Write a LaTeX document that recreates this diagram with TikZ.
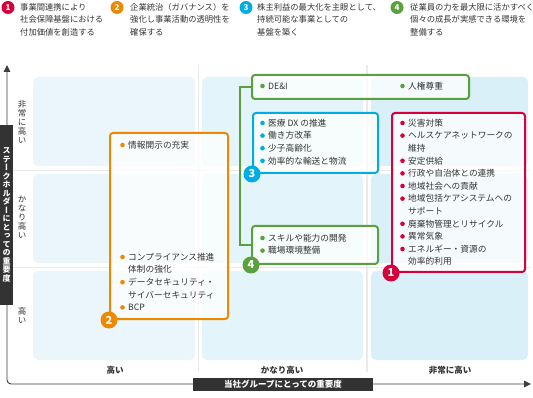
\documentclass[tikz,border=0pt]{standalone}
\usepackage{fontspec}
\setmainfont{Noto Sans CJK JP}
\newfontfamily\vertfont[RawFeature=+vert]{Noto Sans CJK JP}
\usetikzlibrary{arrows.meta,positioning}
\definecolor{colred}{RGB}{215,0,58}
\definecolor{colorange}{RGB}{238,136,0}
\definecolor{colcyan}{RGB}{0,172,225}
\definecolor{colgreen}{RGB}{90,160,60}
\definecolor{txtgray}{RGB}{51,51,51}
\definecolor{axisgray}{RGB}{60,60,60}
\definecolor{labbox}{RGB}{51,51,51}
\definecolor{sepgray}{RGB}{234,234,234}
\definecolor{cellA}{RGB}{234,246,251}
\definecolor{cellB}{RGB}{227,244,251}
\definecolor{cellC}{RGB}{218,240,249}

\begin{document}
\begin{tikzpicture}[x=1pt, y=-1pt,
  every node/.style={font=\fontsize{8.7}{12.6}\selectfont, text=txtgray, inner sep=0pt},
  cell/.style={rounded corners=5pt},
  listbox/.style={draw=#1, line width=2pt, rounded corners=3pt, fill=white,
                  fill opacity=0.75, anchor=north west},
  badge/.style={circle, fill=#1, text=white, minimum size=17pt,
                font=\fontsize{11}{11}\selectfont\bfseries},
  headbadge/.style={circle, fill=#1, text=white, minimum size=13pt,
                    font=\fontsize{8}{8}\selectfont\bfseries},
  head/.style={anchor=north west, align=left, font=\fontsize{8.3}{12.5}\selectfont},
  item/.style={anchor=west},
  collab/.style={font=\fontsize{8.5}{10}\selectfont\bfseries},
  rowlab/.style={align=center, font=\vertfont\fontsize{8.5}{9}\selectfont},
  axislab/.style={fill=labbox, text=white, align=center,
                  font=\vertfont\fontsize{8}{8.5}\selectfont\bfseries},
]
  \useasboundingbox (0,0) rectangle (533,398);

  % --- grid separators ---
  \draw[sepgray, line width=1.5pt] (198.5,65) -- (198.5,372);
  \draw[sepgray, line width=1.5pt] (367,65) -- (367,372);
  \draw[sepgray, line width=1.5pt] (13,170.5) -- (530,170.5);
  \draw[sepgray, line width=1.5pt] (13,267.5) -- (530,267.5);
  % --- cells ---
  \foreach \x/\w/\c in {33/162/cellA, 202/161/cellB, 371/157/cellC}{
    \foreach \y in {77,174,271}{
      \fill[cell, \c] (\x,\y) rectangle ++(\w,89);
    }
  }

  % --- header ---
  \node[headbadge=colred]    (hb1) at (8,7.5)  {1};
  \node[head] (h1) at (20,3) {事業間連携により\\社会保障基盤における\\付加価値を創造する};
  \node[headbadge=colorange] (hb2) at (117,7.5) {2};
  \node[head] (h2) at (130,3) {企業統治（ガバナンス）を\\強化し事業活動の透明性を\\確保する};
  \node[headbadge=colcyan]   (hb3) at (246,7.5) {3};
  \node[head] (h3) at (257,3) {株主利益の最大化を主眼として、\\持続可能な事業としての\\基盤を築く};
  \node[headbadge=colgreen]  (hb4) at (397,7.5) {4};
  \node[head] (h4) at (410,3) {従業員の力を最大限に活かすべく\\個々の成長が実感できる環境を\\整備する};

  % --- boxes ---
  \node[listbox=colorange, minimum width=118, minimum height=186] (obox) at (109,132) {};
  \node[listbox=colcyan,   minimum width=125, minimum height=60]  (cbox) at (252,112) {};
  \node[listbox=colred,    minimum width=133, minimum height=159] (rbox) at (391,112) {};
  \node[listbox=colgreen,  minimum width=217, minimum height=24]  (dei)  at (251,74)  {};
  \node[listbox=colgreen,  minimum width=126, minimum height=38]  (gbox) at (251,225) {};
  % green connector
  \draw[colgreen, line width=2pt] (dei.west) -- ++(-11,0) |- (gbox.west);

  % --- orange items ---
  \foreach \y/\t [count=\i] in {145/情報開示の充実, 257/コンプライアンス推進,
                                 282.2/データセキュリティ・, 307.4/BCP}{
    \node[item] (ob\i) at (128,\y) {\t};
    \fill[colorange] ([xshift=-5.5pt]ob\i.west) circle (2.3);
  }
  \foreach \y/\t [count=\i] in {269.6/体制の強化, 294.8/サイバーセキュリティ}{
    \node[item] (oc\i) at (128,\y) {\t};
  }
  % --- cyan items ---
  \foreach \y/\t [count=\i] in {123/医療 DX の推進, 135.6/働き方改革,
                                 148.2/少子高齢化, 160.8/効率的な輸送と物流}{
    \node[item] (cb\i) at (268,\y) {\t};
    \fill[colcyan] ([xshift=-5.5pt]cb\i.west) circle (2.3);
  }
  % --- green items ---
  \node[item] (gd1) at (268,86) {DE\&I};
  \fill[colgreen] ([xshift=-5.5pt]gd1.west) circle (2.3);
  \node[item] (gd2) at (408,86) {人権尊重};
  \fill[colgreen] ([xshift=-5.5pt]gd2.west) circle (2.3);
  \foreach \y/\t [count=\i] in {238/スキルや能力の開発, 250.6/職場環境整備}{
    \node[item] (gb\i) at (268,\y) {\t};
    \fill[colgreen] ([xshift=-5.5pt]gb\i.west) circle (2.3);
  }
  % --- red items ---
  \foreach \y/\t [count=\i] in {123/災害対策, 135.6/ヘルスケアネットワークの,
                                 160.8/安定供給, 173.4/行政や自治体との連携,
                                 186/地域社会への貢献, 198.6/地域包括ケアシステムへの,
                                 223.8/廃棄物管理とリサイクル, 236.4/異常気象,
                                 249/エネルギー・資源の}{
    \node[item] (rb\i) at (408,\y) {\t};
    \fill[colred] ([xshift=-5.5pt]rb\i.west) circle (2.3);
  }
  \foreach \y/\t [count=\i] in {148.2/維持, 211.2/サポート, 261.6/効率的利用}{
    \node[item] (rc\i) at (408,\y) {\t};
  }

  % --- badges ---
  \node[badge=colred]    (b1) at (rbox.south west) {1};
  \node[badge=colorange] (b2) at (obox.south west) {2};
  \node[badge=colcyan]   (b3) at (cbox.south west) {3};
  \node[badge=colgreen]  (b4) at (gbox.south west) {4};

  % --- axes ---
  \coordinate (ytop) at (7,65);
  \coordinate (orig) at (7,384);
  \coordinate (xend) at (531,384);
  \draw[axisgray, line width=0.9pt, rounded corners=4pt,
        {Triangle[length=7pt,width=6.5pt]}-{Triangle[length=7pt,width=6.5pt]}]
    (ytop) -- (orig) -- (xend);
  \node[axislab, minimum width=13, minimum height=180] (ylab) at (6.5,215)
    {ス\\テ\\ー\\ク\\ホ\\ル\\ダ\\ー\\に\\と\\っ\\て\\の\\重\\要\\度};
  \node[axislab, minimum width=180, minimum height=13,
        font=\fontsize{8.5}{10}\selectfont\bfseries] (xlab) at (283,384.5)
    {当社グループにとっての重要度};

  % --- level labels ---
  \node[rowlab] (r1) at (22,121.5) {非\\常\\に\\高\\い};
  \node[rowlab] (r2) at (22,217)   {か\\な\\り\\高\\い};
  \node[rowlab] (r3) at (22,315.5) {高\\い};
  \node[collab] (c1) at (115,370) {高い};
  \node[collab] (c2) at (282,370) {かなり高い};
  \node[collab] (c3) at (450,370) {非常に高い};
\end{tikzpicture}
\end{document}
